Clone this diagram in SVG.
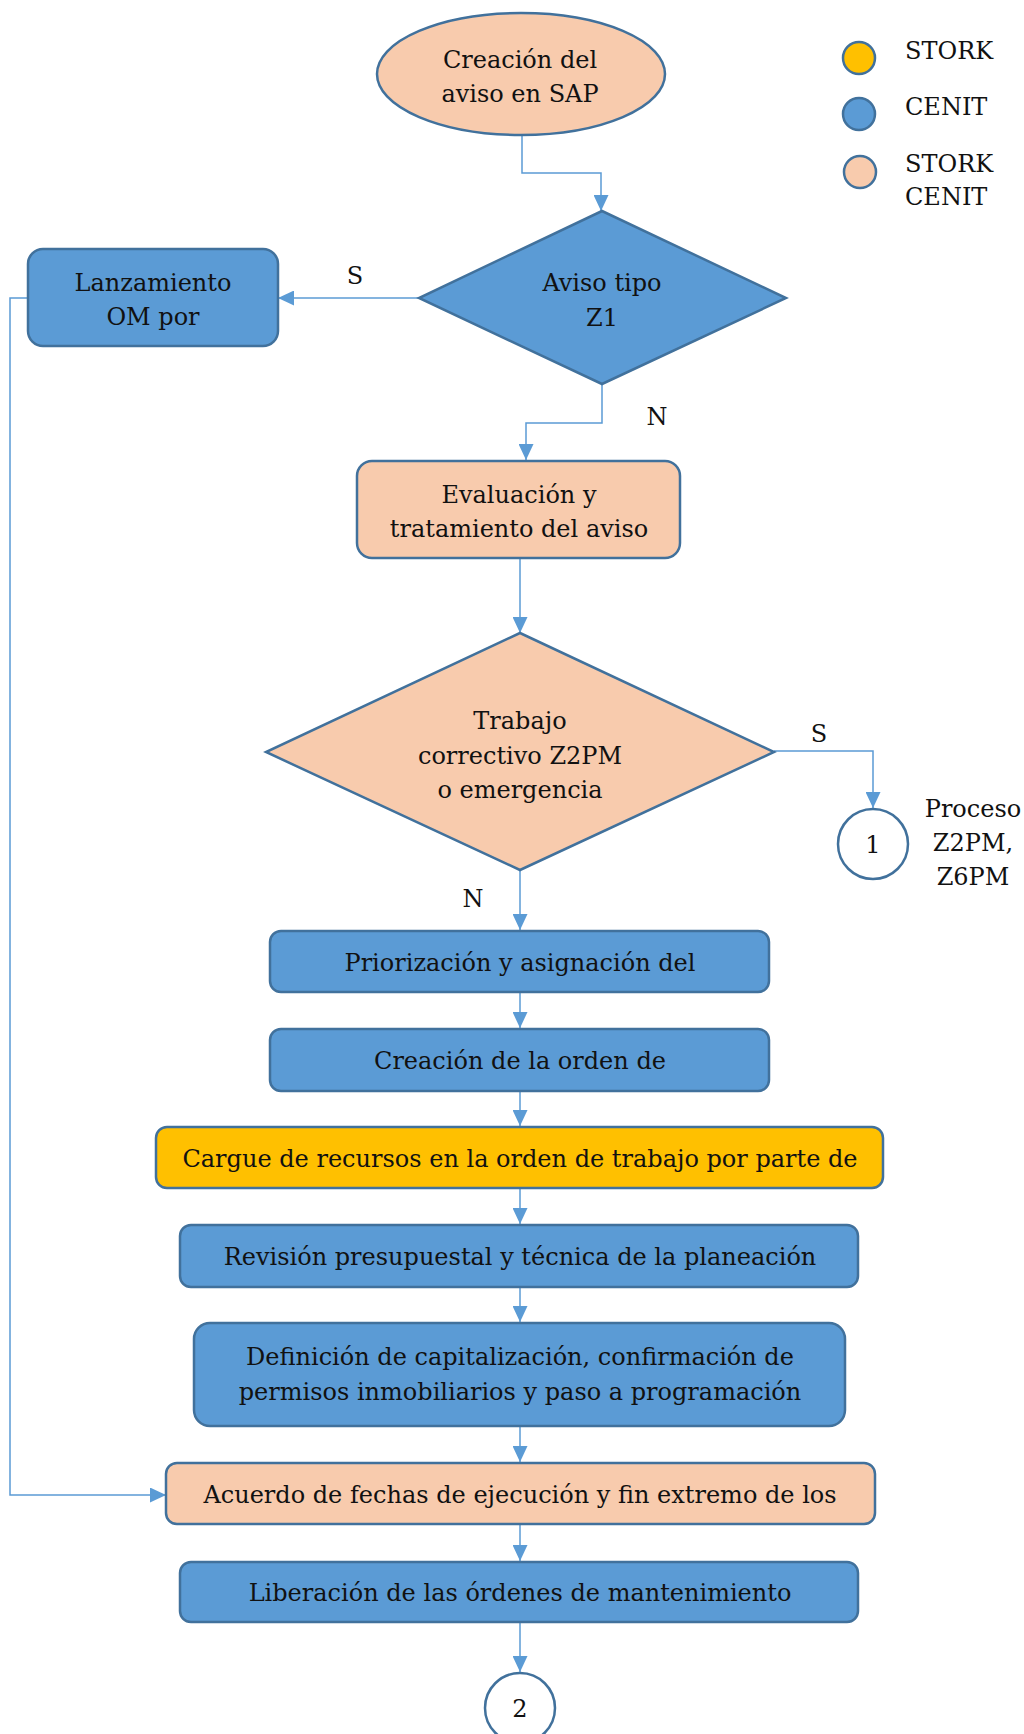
<svg xmlns="http://www.w3.org/2000/svg" width="1024" height="1734" viewBox="0 0 1024 1734">
  <defs>
    <marker id="arrow" markerUnits="userSpaceOnUse" markerWidth="16" markerHeight="15" refX="16" refY="7.5" orient="auto">
      <path d="M0,0 L16,7.5 L0,15 z" fill="#5B9BD5"/>
    </marker>
    <style>
      .blue { fill: #5B9BD5; stroke: #41719C; stroke-width: 2.5; }
      .peach { fill: #F8CBAD; stroke: #41719C; stroke-width: 2.5; }
      .yellow { fill: #FFC000; stroke: #41719C; stroke-width: 2.5; }
      .white { fill: #FFFFFF; stroke: #41719C; stroke-width: 2.5; }
      .conn { fill: none; stroke: #5B9BD5; stroke-width: 1.5; marker-end: url(#arrow); }
      text { font-family: "DejaVu Serif", "Liberation Serif", serif; font-size: 24px; fill: #111111; }
      .c { text-anchor: middle; }
    </style>
  </defs>
  <rect width="1024" height="1734" fill="#FFFFFF"/>

  <!-- legend -->
  <g id="legend">
    <circle cx="859" cy="58" r="16" class="yellow"/>
    <circle cx="859" cy="114" r="16" class="blue"/>
    <circle cx="860" cy="172" r="16" class="peach"/>
    <text x="905" y="59">STORK</text>
    <text x="905" y="115">CENIT</text>
    <text x="905" y="172">STORK</text>
    <text x="905" y="205">CENIT</text>
  </g>

  <!-- connectors -->
  <g id="connectors">
    <polyline class="conn" points="522,136 522,173 601,173 601,211"/>
    <polyline class="conn" points="419,298 278,298"/>
    <polyline class="conn" points="602,384 602,423 526,423 526,460"/>
    <polyline class="conn" points="28,298 10,298 10,1495 166,1495"/>
    <polyline class="conn" points="520,558 520,633"/>
    <polyline class="conn" points="774,751 873,751 873,808"/>
    <polyline class="conn" points="520,870 520,930"/>
    <polyline class="conn" points="520,992 520,1028"/>
    <polyline class="conn" points="520,1091 520,1126"/>
    <polyline class="conn" points="520,1188 520,1224"/>
    <polyline class="conn" points="520,1287 520,1322"/>
    <polyline class="conn" points="520,1426 520,1462"/>
    <polyline class="conn" points="520,1524 520,1561"/>
    <polyline class="conn" points="520,1622 520,1672"/>
    <text x="355" y="284" class="c">S</text>
    <text x="657" y="425" class="c">N</text>
    <text x="819" y="742" class="c">S</text>
    <text x="473" y="907" class="c">N</text>
  </g>

  <!-- start -->
  <g id="n-creacion-aviso">
    <ellipse cx="521" cy="74" rx="144" ry="61" class="peach"/>
    <text x="520" y="68" class="c">Creación del</text>
    <text x="520" y="102" class="c">aviso en SAP</text>
  </g>

  <g id="n-aviso-z1">
    <polygon points="602,211 786,298 602,384 419,298" class="blue"/>
    <text x="602" y="291" class="c">Aviso tipo</text>
    <text x="602" y="326" class="c">Z1</text>
  </g>

  <g id="n-lanzamiento">
    <rect x="28" y="249" width="250" height="97" rx="15" class="blue"/>
    <text x="153" y="291" class="c">Lanzamiento</text>
    <text x="153" y="325" class="c">OM por</text>
  </g>

  <g id="n-evaluacion">
    <rect x="357" y="461" width="323" height="97" rx="15" class="peach"/>
    <text x="519" y="503" class="c">Evaluación y</text>
    <text x="519" y="537" class="c">tratamiento del aviso</text>
  </g>

  <g id="n-trabajo-correctivo">
    <polygon points="520,633 774,752 520,870 266,752" class="peach"/>
    <text x="520" y="729" class="c">Trabajo</text>
    <text x="520" y="764" class="c">correctivo Z2PM</text>
    <text x="520" y="798" class="c">o emergencia</text>
  </g>

  <g id="n-conector-1">
    <circle cx="873" cy="844" r="35" class="white"/>
    <text x="873" y="853" class="c">1</text>
  </g>
  <g id="n-proceso-label">
    <text x="973" y="817" class="c">Proceso</text>
    <text x="973" y="851" class="c">Z2PM,</text>
    <text x="973" y="885" class="c">Z6PM</text>
  </g>

  <g id="n-priorizacion">
    <rect x="270" y="931" width="499" height="61" rx="11" class="blue"/>
    <text x="520" y="971" class="c">Priorización y asignación del</text>
  </g>

  <g id="n-creacion-orden">
    <rect x="270" y="1029" width="499" height="62" rx="11" class="blue"/>
    <text x="520" y="1069" class="c">Creación de la orden de</text>
  </g>

  <g id="n-cargue-recursos">
    <rect x="156" y="1127" width="727" height="61" rx="11" class="yellow"/>
    <text x="520" y="1167" class="c">Cargue de recursos en la orden de trabajo por parte de</text>
  </g>

  <g id="n-revision">
    <rect x="180" y="1225" width="678" height="62" rx="11" class="blue"/>
    <text x="520" y="1265" class="c">Revisión presupuestal y técnica de la planeación</text>
  </g>

  <g id="n-definicion">
    <rect x="194" y="1323" width="651" height="103" rx="16" class="blue"/>
    <text x="520" y="1365" class="c">Definición de capitalización, confirmación de</text>
    <text x="520" y="1400" class="c">permisos inmobiliarios y paso a programación</text>
  </g>

  <g id="n-acuerdo">
    <rect x="166" y="1463" width="709" height="61" rx="11" class="peach"/>
    <text x="520" y="1503" class="c">Acuerdo de fechas de ejecución y fin extremo de los</text>
  </g>

  <g id="n-liberacion">
    <rect x="180" y="1562" width="678" height="60" rx="11" class="blue"/>
    <text x="520" y="1601" class="c">Liberación de las órdenes de mantenimiento</text>
  </g>

  <g id="n-conector-2">
    <circle cx="520" cy="1708" r="35" class="white"/>
    <text x="520" y="1717" class="c">2</text>
  </g>
</svg>
